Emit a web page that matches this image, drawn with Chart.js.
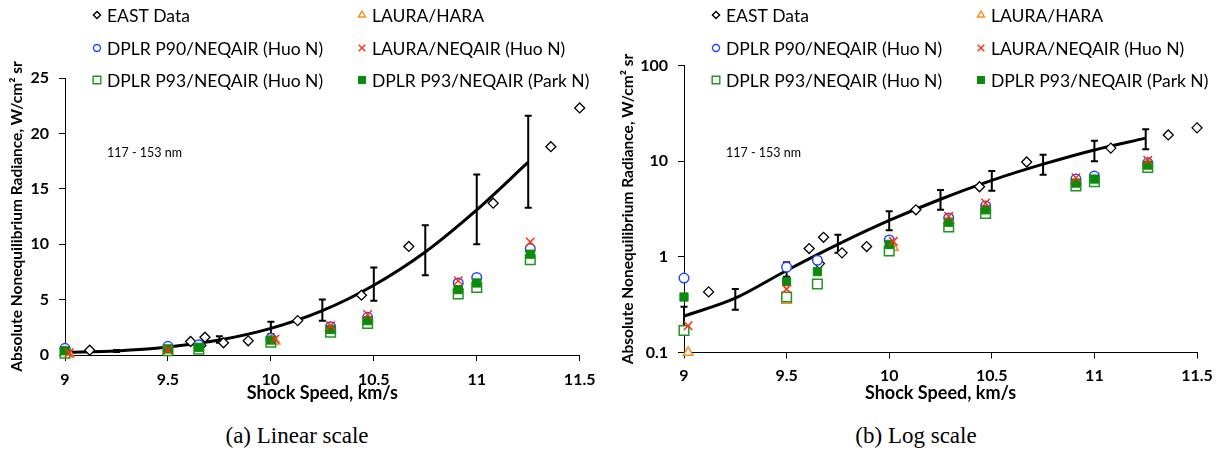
<!DOCTYPE html>
<html>
<head>
<meta charset="utf-8">
<script src="https://cdn.jsdelivr.net/npm/chart.js@4.4.1/dist/chart.umd.min.js"></script>
<style>
  body { margin: 0; background: #fff; width: 1222px; height: 454px; position: relative; overflow: hidden; }
  canvas { position: absolute; top: 0; }
  #linearChart { left: 0; }
  #logChart { left: 611px; }
  .caption { position: absolute; top: 423px; line-height: 26px; font-family: 'Liberation Serif', serif; font-size: 23px;
             transform: translateX(-50%); white-space: nowrap; color: #000; }
</style>
</head>
<body>
<canvas id="linearChart" width="605" height="404"></canvas>
<canvas id="logChart" width="611" height="404"></canvas>
<div class="caption" style="left:297px">(a) Linear scale</div>
<div class="caption" style="left:916px">(b) Log scale</div>

<script>
// EAST shock tube measurements
const eastX = [9.12, 9.61, 9.66, 9.68, 9.77, 9.89, 10.13, 10.44, 10.67, 11.08, 11.36, 11.5];
const eastY = [0.43, 1.22, 0.85, 1.6, 1.1, 1.28, 3.1, 5.4, 9.8, 13.7, 18.8, 22.3];

// curve fit through EAST data, with error bars
const fitX = [9, 9.25, 9.5, 9.75, 10, 10.25, 10.5, 10.75, 11, 11.25];
const fitY = [0.24, 0.37, 0.72, 1.35, 2.4, 4.0, 6.3, 9.3, 13.1, 17.4];
const fitLo = [0.18, 0.28, 0.62, 1.1, 1.9, 3.1, 4.9, 7.2, 10.0, 13.3];
const fitHi = [0.30, 0.46, 0.88, 1.7, 3.0, 5.0, 7.9, 11.7, 16.3, 21.6];

// simulations
const p90X = [9, 9.5, 9.65, 10, 10.29, 10.47, 10.91, 11, 11.26];
const p90Y = [0.6, 0.78, 0.92, 1.5, 2.55, 3.4, 6.5, 7.0, 9.6];
const haraX = [9.02, 9.5, 10.02, 10.29, 10.47, 10.91, 11.26];
const haraY = [0.1, 0.35, 1.25, 2.4, 3.3, 6.2, 9.6];
const lauraX = [9.02, 9.5, 10.02, 10.29, 10.47, 10.91, 11.26];
const lauraY = [0.19, 0.46, 1.45, 2.65, 3.65, 6.7, 10.2];
const p93HuoX = [9, 9.5, 9.65, 10, 10.29, 10.47, 10.91, 11, 11.26];
const p93HuoY = [0.17, 0.38, 0.52, 1.15, 2.05, 2.85, 5.5, 6.1, 8.6];
const p93ParkX = [9, 9.5, 9.65, 10, 10.29, 10.47, 10.91, 11, 11.26];
const p93ParkY = [0.38, 0.55, 0.7, 1.35, 2.3, 3.1, 5.9, 6.5, 9.1];

// tick labels
const xTicks = [9, 9.5, 10, 10.5, 11, 11.5];
const yTicksLinear = [0, 5, 10, 15, 20, 25];
const yTicksLog = [0.1, 1, 10, 100];

const legendOrder = [
  'EAST Data', 'LAURA/HARA',
  'DPLR P90/NEQAIR (Huo N)', 'LAURA/NEQAIR (Huo N)',
  'DPLR P93/NEQAIR (Huo N)', 'DPLR P93/NEQAIR (Park N)'
];
const bandLabel = '117 - 153 nm';

const pts = (xs, ys) => xs.map((x, i) => ({x: x, y: ys[i]}));

function buildDatasets() {
  return [
    {label: 'LAURA/NEQAIR (Huo N)', data: pts(lauraX, lauraY), pointStyle: 'crossRot', pointRadius: 6,
     borderColor: '#ff2e12', backgroundColor: '#ff2e12', pointBorderWidth: 1.5, legendRadius: 4.7, order: 1},
    {label: 'DPLR P93/NEQAIR (Park N)', data: pts(p93ParkX, p93ParkY), pointStyle: 'rect', pointRadius: 5.8,
     borderColor: '#0b8a0b', backgroundColor: '#0b8a0b', pointBorderWidth: 1, legendRadius: 4.7, order: 2},
    {label: 'DPLR P93/NEQAIR (Huo N)', data: pts(p93HuoX, p93HuoY), pointStyle: 'rect', pointRadius: 6.8,
     borderColor: '#1f961f', backgroundColor: '#ffffff', pointBorderWidth: 1.5, legendRadius: 5.4, order: 3},
    {label: 'DPLR P90/NEQAIR (Huo N)', data: pts(p90X, p90Y), pointStyle: 'circle', pointRadius: 4.8,
     borderColor: '#2346ff', backgroundColor: '#ffffff', pointBorderWidth: 1.5, legendRadius: 3.5, order: 4},
    {label: 'LAURA/HARA', data: pts(haraX, haraY), pointStyle: 'triangle', pointRadius: 5.6,
     borderColor: '#ff8a1a', backgroundColor: '#ffffff', pointBorderWidth: 1.5, legendRadius: 4, order: 5},
    {label: 'EAST Data', data: pts(eastX, eastY), pointStyle: 'rectRot', pointRadius: 5,
     borderColor: '#000000', backgroundColor: '#ffffff', pointBorderWidth: 1.3, legendRadius: 3.6, order: 6},
    {label: 'fit', data: pts(fitX, fitY), showLine: true, borderColor: '#000', borderWidth: 3, pointRadius: 0,
     cubicInterpolationMode: 'monotone', order: 7}
  ];
}

// draws the vertical error bars through the chart's own scales
const errorBars = {
  id: 'errorBars',
  beforeDatasetsDraw(chart) {
    const {ctx, scales: {x, y}} = chart;
    ctx.save();
    ctx.strokeStyle = '#000';
    ctx.lineWidth = 2;
    fitX.forEach((v, i) => {
      const px = x.getPixelForValue(v);
      const lo = y.getPixelForValue(fitLo[i]);
      const hi = y.getPixelForValue(fitHi[i]);
      ctx.beginPath();
      ctx.moveTo(px, lo); ctx.lineTo(px, hi);
      ctx.moveTo(px - 3.5, lo); ctx.lineTo(px + 3.5, lo);
      ctx.moveTo(px - 3.5, hi); ctx.lineTo(px + 3.5, hi);
      ctx.stroke();
    });
    ctx.restore();
  }
};

// two-column legend plus the wavelength band note
const gridLegend = {
  id: 'gridLegend',
  afterDraw(chart, args, opts) {
    const {ctx, chartArea} = chart;
    ctx.save();
    ctx.font = '17.5px Lato';
    ctx.textBaseline = 'middle';
    ctx.textAlign = 'left';
    legendOrder.forEach((name, i) => {
      const ds = chart.data.datasets.find(d => d.label === name);
      const mx = chartArea.left + opts.cols[i % 2];
      const my = opts.rows[Math.floor(i / 2)];
      ctx.fillStyle = ds.backgroundColor;
      ctx.strokeStyle = ds.borderColor;
      ctx.lineWidth = 1.4;
      Chart.helpers.drawPoint(ctx, {pointStyle: ds.pointStyle, radius: ds.legendRadius, rotation: 0, borderWidth: 1.4}, mx, my);
      ctx.fillStyle = '#000';
      ctx.fillText(name, mx + 10, my + 1);
    });
    ctx.font = '12.5px Lato';
    ctx.fillText(bandLabel, chartArea.left + opts.noteDx, opts.noteY);
    ctx.restore();
  }
};

const tickFont = {family: 'Lato', size: 16, weight: 'bold'};

function makeChart(id, cfg) {
  const yScale = cfg.log ? {
    type: 'logarithmic', min: 0.1, max: 100,
    afterBuildTicks: s => { s.ticks = yTicksLog.map(v => ({value: v})); }
  } : {
    type: 'linear', min: 0, max: 25,
    afterBuildTicks: s => { s.ticks = yTicksLinear.map(v => ({value: v})); }
  };
  Object.assign(yScale, {
    afterFit: s => { s.width = cfg.axisLeft; },
    border: {color: '#000', width: 1},
    grid: {drawOnChartArea: false, color: '#000', tickLength: 6},
    ticks: {font: tickFont, color: '#000', padding: 10, callback: v => String(v)},
    title: {display: true, text: 'Absolute Nonequilibrium Radiance, W/cm² sr', color: '#000',
            font: {family: 'Lato', size: 15.5, weight: 'bold'}, padding: {top: 8, bottom: 0}}
  });

  return new Chart(document.getElementById(id), {
    type: 'scatter',
    data: {datasets: buildDatasets()},
    plugins: [errorBars, gridLegend],
    options: {
      responsive: false,
      animation: false,
      clip: false,
      layout: {padding: {left: 0, top: cfg.top, right: cfg.right, bottom: 0}},
      elements: {point: {hoverRadius: 0}},
      datasets: {scatter: {clip: false}},
      plugins: {
        legend: {display: false},
        tooltip: {enabled: false},
        gridLegend: {cols: [32, 297], rows: [15, 48, 80], noteDx: 42, noteY: 153}
      },
      scales: {
        x: {
          type: 'linear', min: 9, max: 11.5,
          afterBuildTicks: s => { s.ticks = xTicks.map(v => ({value: v})); },
          afterFit: s => { s.height = cfg.axisHeight; },
          border: {color: '#000', width: 1},
          grid: {drawOnChartArea: false, color: '#000', tickLength: 6},
          ticks: {font: tickFont, color: '#000', padding: cfg.xPad, maxRotation: 0, callback: v => String(v)},
          title: {display: true, text: 'Shock Speed, km/s', color: '#000',
                  font: {family: 'Lato', size: 18, weight: 'bold'}, padding: {top: 0, bottom: 0}}
        },
        y: yScale
      }
    }
  });
}

makeChart('linearChart', {log: false, top: 78, right: 24.5, axisLeft: 65, axisHeight: 49, xPad: 9.5});
makeChart('logChart', {log: true, top: 65.5, right: 25, axisLeft: 73, axisHeight: 51.5, xPad: 8});
</script>
</body>
</html>
